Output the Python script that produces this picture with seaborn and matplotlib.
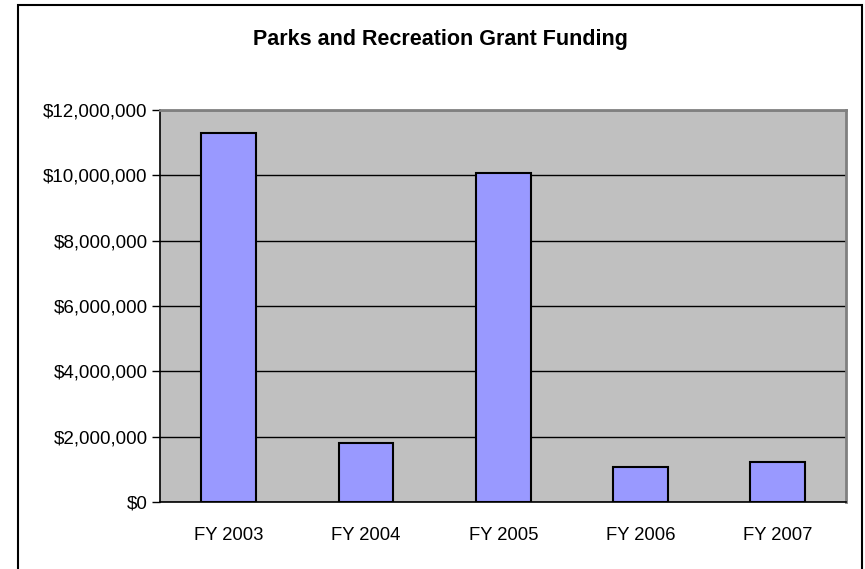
import matplotlib
matplotlib.use('Agg')
import matplotlib.pyplot as plt
import matplotlib.ticker as mticker
from matplotlib.patches import Rectangle
import seaborn as sns
import pandas as pd

# Daten
years = ['FY 2003', 'FY 2004', 'FY 2005', 'FY 2006', 'FY 2007']
funding = [11300000, 1820000, 10060000, 1070000, 1210000]
y_ticks = [0, 2000000, 4000000, 6000000, 8000000, 10000000, 12000000]

df = pd.DataFrame({'year': years, 'funding': funding})

sns.set_style('white')
plt.rcParams['font.family'] = ['Liberation Sans', 'DejaVu Sans']
plt.rcParams['text.color'] = 'black'
plt.rcParams['xtick.color'] = 'black'
plt.rcParams['ytick.color'] = 'black'

fig = plt.figure(figsize=(8.65, 5.69), dpi=100)
ax = fig.add_axes([0.185, 0.1178, 0.7936, 0.6889])
ax.set_facecolor('#C0C0C0')

sns.barplot(data=df, x='year', y='funding', color='#9999FF', edgecolor='black',
            linewidth=1.5, width=0.4, saturation=1, ax=ax, zorder=3)

ax.set_ylim(0, 12000000)
ax.set_xlim(-0.5, len(years) - 0.5)
ax.set_yticks(y_ticks)
ax.yaxis.set_major_formatter(mticker.FuncFormatter(lambda v, p: '${:,.0f}'.format(v)))
ax.grid(axis='y', color='black', linewidth=1, zorder=1)
ax.set_axisbelow(True)

# Tickmarks zwischen den Kategorien
ax.set_xticks(range(len(years)))
ax.set_xticklabels(years)
ax.set_xticks([i - 0.5 for i in range(len(years) + 1)], minor=True)
ax.tick_params(axis='x', which='major', length=0, pad=18, labelsize=13.3, labelcolor='black')
ax.tick_params(axis='x', which='minor', length=6, width=1, color='black', direction='out')
ax.tick_params(axis='y', length=6, width=1, color='black', direction='out', pad=3,
               labelsize=13.5, labelcolor='black')
ax.tick_params(axis='both', bottom=True, left=True)

for side in ['left', 'bottom']:
    ax.spines[side].set_color('black')
    ax.spines[side].set_linewidth(1.2)
for side in ['top', 'right']:
    ax.spines[side].set_color('#808080')
    ax.spines[side].set_linewidth(2)

ax.set_xlabel('')
ax.set_ylabel('')

fig.text(440 / 865, 1 - 39 / 569, 'Parks and Recreation Grant Funding',
         ha='center', va='center', fontsize=15.5, fontweight='bold', color='black')

# Rahmen um das Diagramm
fig.patches.append(Rectangle((18 / 865, -0.02), (862 - 18) / 865, 1 - 5 / 569 + 0.02,
                             transform=fig.transFigure, fill=False, edgecolor='black',
                             linewidth=1.5, clip_on=False))

fig.savefig('out.png', dpi=100)
